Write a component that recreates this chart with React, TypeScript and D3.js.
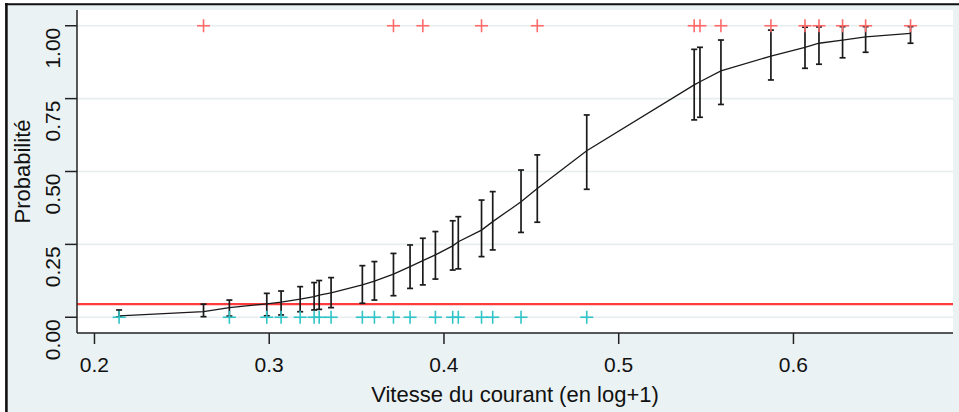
import React from "react";
import * as d3 from "d3";

// Observed current speeds (log+1): presences (y = 1) and absences (y = 0)
const presence = [0.2624, 0.3711, 0.3879, 0.4215, 0.4534, 0.5432, 0.5465, 0.5585, 0.5871, 0.6066, 0.6146, 0.6281, 0.6413, 0.667];
const absence = [0.2141, 0.2772, 0.2986, 0.3068, 0.3177, 0.3257, 0.3286, 0.3354, 0.3533, 0.3602, 0.3711, 0.3806, 0.3951, 0.405, 0.4082, 0.4215, 0.4279, 0.4441, 0.4817];

// Fitted probability with its confidence interval at each observed speed
const speed = [0.2141, 0.2624, 0.2772, 0.2986, 0.3068, 0.3177, 0.3257, 0.3286, 0.3354, 0.3533, 0.3602, 0.3711, 0.3806, 0.3879, 0.3951, 0.405, 0.4082, 0.4215, 0.4279, 0.4441, 0.4534, 0.4817, 0.5432, 0.5465, 0.5585, 0.5871, 0.6066, 0.6146, 0.6281, 0.6413, 0.667];
const prob = [0.005, 0.019, 0.033, 0.046, 0.052, 0.062, 0.071, 0.076, 0.084, 0.111, 0.124, 0.148, 0.174, 0.194, 0.214, 0.245, 0.259, 0.299, 0.328, 0.396, 0.442, 0.571, 0.797, 0.808, 0.845, 0.896, 0.926, 0.94, 0.951, 0.962, 0.974];
const lower = [0.001, 0.002, 0.004, 0.005, 0.008, 0.019, 0.025, 0.027, 0.033, 0.048, 0.059, 0.074, 0.099, 0.111, 0.131, 0.162, 0.166, 0.208, 0.231, 0.291, 0.326, 0.439, 0.677, 0.686, 0.73, 0.814, 0.854, 0.868, 0.89, 0.909, 0.94];
const upper = [0.025, 0.045, 0.059, 0.082, 0.09, 0.105, 0.119, 0.126, 0.136, 0.177, 0.191, 0.219, 0.248, 0.271, 0.294, 0.331, 0.345, 0.402, 0.431, 0.505, 0.557, 0.694, 0.919, 0.926, 0.951, 0.985, 0.995, 0.996, 0.997, 0.997, 0.997];

const threshold = 0.045;
const xTicks = [0.2, 0.3, 0.4, 0.5, 0.6];
const yTicks = [0, 0.25, 0.5, 0.75, 1];

const W = 959;
const H = 412;
const plot = { left: 77, right: 953, top: 10, bottom: 333 };
const FONT = "'Liberation Sans', Arial, sans-serif";
const BG = "#eaf2f3";

export default function App() {
  const x = d3.scaleLinear().domain([0.19, 0.6913]).range([plot.left, plot.right]);
  const y = d3.scaleLinear().domain([-0.054, 1.054]).range([plot.bottom, plot.top]);
  const fmtX = d3.format(".1f");
  const fmtY = d3.format(".2f");

  const fitted = speed.map((s, i) => ({ s, p: prob[i], lo: lower[i], hi: upper[i] }));
  const curve = d3
    .line<{ s: number; p: number }>()
    .x((d) => x(d.s))
    .y((d) => y(d.p))(fitted);

  const cross = (cx: number, cy: number, color: string, key: string) => (
    <g key={key} stroke={color} strokeWidth={1.6}>
      <line x1={cx - 6.5} x2={cx + 6.5} y1={cy} y2={cy} />
      <line x1={cx} x2={cx} y1={cy - 6.5} y2={cy + 6.5} />
    </g>
  );

  return (
    <svg
      width={W}
      height={H}
      style={{ position: "absolute", left: 0, top: 0, display: "block" }}
      fontFamily={FONT}
    >
      <rect x={0} y={0} width={W} height={H} fill="#ffffff" />
      <rect x={5} y={3} width={W - 5} height={H - 3} fill={BG} />
      {/* frame */}
      <line x1={5} x2={W} y1={4.2} y2={4.2} stroke="#111" strokeWidth={2} />
      <line x1={6.4} x2={6.4} y1={3} y2={H} stroke="#111" strokeWidth={2.6} />

      {/* plot region */}
      <rect x={plot.left} y={plot.top} width={plot.right - plot.left} height={plot.bottom - plot.top} fill="#ffffff" />

      {/* gridlines */}
      {yTicks.map((t) => (
        <line key={`g${t}`} x1={plot.left} x2={plot.right} y1={y(t)} y2={y(t)} stroke="#e6eef0" strokeWidth={1.6} />
      ))}

      {/* threshold */}
      <line x1={plot.left} x2={plot.right} y1={y(threshold)} y2={y(threshold)} stroke="#ff3b3b" strokeWidth={2.2} />

      {/* fitted curve */}
      <path d={curve ?? ""} fill="none" stroke="#1a1a1a" strokeWidth={1.3} />

      {/* confidence intervals */}
      {fitted.map((d, i) => (
        <g key={`ci${i}`} stroke="#1a1a1a" strokeWidth={1.7}>
          <line x1={x(d.s)} x2={x(d.s)} y1={y(d.lo)} y2={y(d.hi)} />
          <line x1={x(d.s) - 3} x2={x(d.s) + 3} y1={y(d.lo)} y2={y(d.lo)} />
          <line x1={x(d.s) - 3} x2={x(d.s) + 3} y1={y(d.hi)} y2={y(d.hi)} />
        </g>
      ))}

      {/* observations */}
      {presence.map((s, i) => cross(x(s), y(1), "#ff6b6b", `p${i}`))}
      {absence.map((s, i) => cross(x(s), y(0), "#2ec4c8", `a${i}`))}

      {/* axes */}
      <line x1={plot.left} x2={plot.left} y1={plot.top} y2={plot.bottom} stroke="#222" strokeWidth={1.5} />
      <line x1={plot.left} x2={plot.right} y1={plot.bottom} y2={plot.bottom} stroke="#222" strokeWidth={1.5} />

      {yTicks.map((t) => (
        <g key={`yt${t}`}>
          <line x1={plot.left - 12} x2={plot.left} y1={y(t)} y2={y(t)} stroke="#222" strokeWidth={1.5} />
          <text
            transform={`translate(60,${y(t) + 2}) rotate(-90)`}
            textAnchor="end"
            fontSize={21}
            fill="#111"
          >
            {fmtY(t)}
          </text>
        </g>
      ))}

      {xTicks.map((t) => (
        <g key={`xt${t}`}>
          <line x1={x(t)} x2={x(t)} y1={plot.bottom} y2={plot.bottom + 11} stroke="#222" strokeWidth={1.5} />
          <text x={x(t)} y={371.5} textAnchor="middle" fontSize={21} fill="#111">
            {fmtX(t)}
          </text>
        </g>
      ))}

      <text
        x={(plot.left + plot.right) / 2}
        y={401.5}
        textAnchor="middle"
        fontSize={22}
        fill="#111"
      >
        Vitesse du courant (en log+1)
      </text>
      <text
        transform={`translate(30,${(plot.top + plot.bottom) / 2}) rotate(-90)`}
        textAnchor="middle"
        fontSize={22}
        fill="#111"
      >
        Probabilité
      </text>
    </svg>
  );
}
